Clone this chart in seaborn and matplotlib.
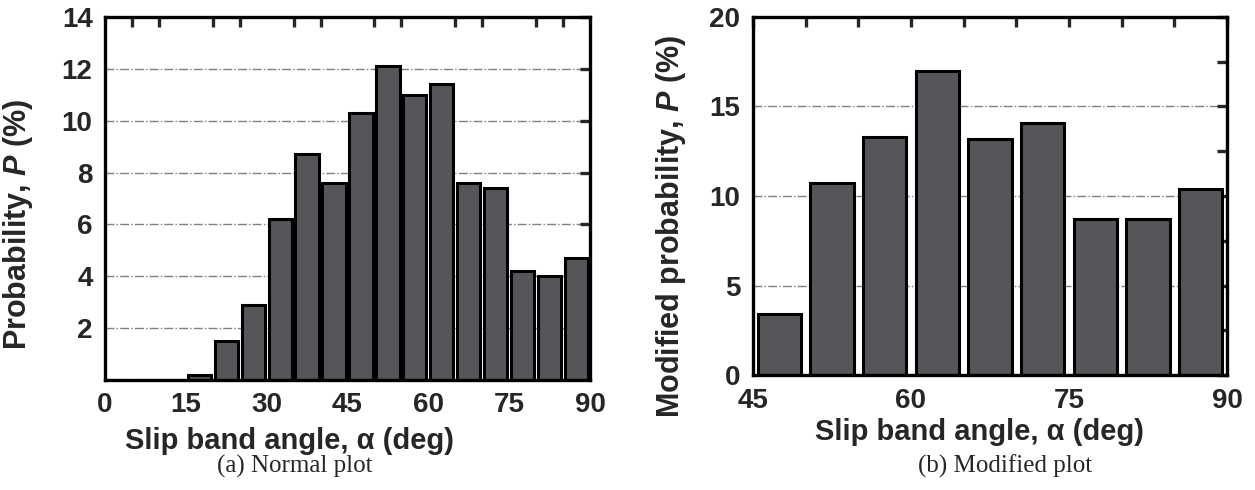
import pandas as pd
import seaborn as sns
import matplotlib.pyplot as plt
from matplotlib.ticker import MultipleLocator

# bin edges (deg) and probabilities (%)
edges_a = list(range(0, 95, 5))
prob_a = [0, 0, 0, 0.2, 1.5, 2.9, 6.2, 8.7, 7.6, 10.3, 12.1, 11.0, 11.4, 7.6, 7.4, 4.2, 4.0, 4.7]

edges_b = list(range(45, 95, 5))
prob_b = [3.4, 10.7, 13.3, 17.0, 13.2, 14.1, 8.7, 8.7, 10.4]

xticks_a = [0, 15, 30, 45, 60, 75, 90]
yticks_a = [2, 4, 6, 8, 10, 12, 14]
xticks_b = [45, 60, 75, 90]
yticks_b = [0, 5, 10, 15, 20]

sns.set_style("white")
plt.rcParams["font.family"] = ["Liberation Sans", "DejaVu Sans"]
plt.rcParams["font.weight"] = "bold"
plt.rcParams["mathtext.fontset"] = "custom"
plt.rcParams["mathtext.it"] = "Liberation Sans:italic:bold"
plt.rcParams["mathtext.rm"] = "Liberation Sans:bold"

bar_color = "#555659"

fig = plt.figure(figsize=(12.55, 4.9), dpi=100)
ax1 = fig.add_axes([105 / 1255, 1 - 380 / 490, 485 / 1255, 363 / 490])
ax2 = fig.add_axes([753 / 1255, 1 - 375 / 490, 474 / 1255, 358 / 490])


def style_axes(ax):
    for s in ax.spines.values():
        s.set_linewidth(2.4)
        s.set_color("black")
    ax.tick_params(which="both", direction="in", top=True, right=True,
                   width=2.4, length=7, labelsize=20, pad=9)
    for lab in ax.get_xticklabels() + ax.get_yticklabels():
        lab.set_fontweight("bold")


def centers(edges):
    return [(a + b) / 2 for a, b in zip(edges[:-1], edges[1:])]


# (a) normal plot
df_a = pd.DataFrame({"angle": centers(edges_a), "P": prob_a})
sns.histplot(data=df_a, x="angle", weights="P", bins=edges_a, shrink=0.86,
             color=bar_color, alpha=1, edgecolor="black", linewidth=2.2, ax=ax1)
ax1.set_xlim(0, 90)
ax1.set_ylim(0, 14)
ax1.set_xticks(xticks_a)
ax1.xaxis.set_minor_locator(MultipleLocator(5))
ax1.set_yticks(yticks_a)
for y in yticks_a[:-1]:
    ax1.axhline(y, color="gray", lw=1, ls="-.", zorder=0)
style_axes(ax1)
ax1.tick_params(axis="x", which="major", length=0)
ax1.set_xlabel("Slip band angle, α (deg)", fontsize=21, fontweight="bold")
ax1.set_ylabel("Probability, $P$ (%)", fontsize=22, fontweight="bold")
ax1.xaxis.set_label_coords(0.38, -0.13)
ax1.yaxis.set_label_coords(-0.144, 0.43)

# (b) modified plot
df_b = pd.DataFrame({"angle": centers(edges_b), "P": prob_b})
sns.histplot(data=df_b, x="angle", weights="P", bins=edges_b, shrink=0.82,
             color=bar_color, alpha=1, edgecolor="black", linewidth=2.2, ax=ax2)
ax2.set_xlim(45, 90)
ax2.set_ylim(0, 20)
ax2.set_xticks(xticks_b)
ax2.xaxis.set_minor_locator(MultipleLocator(5))
ax2.set_yticks(yticks_b)
ax2.yaxis.set_minor_locator(MultipleLocator(2.5))
for y in [5, 10, 15]:
    ax2.axhline(y, color="gray", lw=1, ls="-.", zorder=0)
style_axes(ax2)
ax2.set_xlabel("Slip band angle, α (deg)", fontsize=21, fontweight="bold")
ax2.set_ylabel("Modified probability, $P$ (%)", fontsize=22, fontweight="bold")
ax2.xaxis.set_label_coords(0.477, -0.12)
ax2.yaxis.set_label_coords(-0.137, 0.416)

fig.text(295 / 1255, 1 - 466 / 490, "(a) Normal plot", family="Liberation Serif",
         fontweight="normal", fontsize=18, ha="center", va="center")
fig.text(1005 / 1255, 1 - 466 / 490, "(b) Modified plot", family="Liberation Serif",
         fontweight="normal", fontsize=18, ha="center", va="center")

fig.savefig("out.png", dpi=100)
